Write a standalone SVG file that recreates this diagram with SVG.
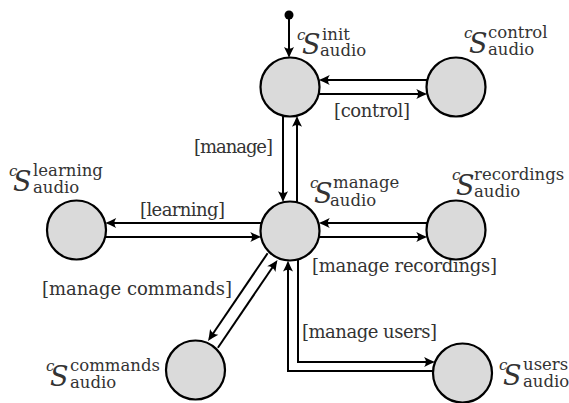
<svg xmlns="http://www.w3.org/2000/svg" width="569" height="403" viewBox="0 0 569 403">
  <style>
    .node { fill: #dadada; stroke: #000; stroke-width: 2.2; }
    .edge { fill: none; stroke: #000; stroke-width: 2; stroke-linejoin: miter; marker-end: url(#arrow); }
    text { font-family: 'DejaVu Serif', serif; fill: #333; }
    .lbl { font-size: 18px; }
    .nm { font-size: 16.5px; }
    .c { font-style: italic; font-size: 15px; }
    .S { font-style: italic; font-size: 27px; }
  </style>
  <defs>
    <marker id="arrow" viewBox="-12 -6 16 12" refX="-3" refY="0" markerWidth="16" markerHeight="12" orient="auto" markerUnits="userSpaceOnUse">
      <path d="M0,0 Q-4.5,-1.6 -11,-5 Q-7.5,0 -11,5 Q-4.5,1.6 0,0 Z" fill="#000"/>
    </marker>
  </defs>

  <!-- connectors -->
  <g id="edges">
    <circle cx="289" cy="15" r="4.5" fill="#000"/>
    <path class="edge" d="M289,15 V55"/>
    <path class="edge" d="M427.3,80 H321.7"/>
    <path class="edge" d="M318.7,94 H424.3"/>
    <path class="edge" d="M283,115.7 V199.3"/>
    <path class="edge" d="M297,202.3 V118.7"/>
    <path class="edge" d="M261.3,223 H108.2"/>
    <path class="edge" d="M105.2,237 H258.3"/>
    <path class="edge" d="M427.3,223 H321.7"/>
    <path class="edge" d="M318.7,237 H424.3"/>
    <path class="edge" d="M267.6,253.3 L209.7,338.5"/>
    <path class="edge" d="M217.9,347.7 L275.8,262.5"/>
    <path class="edge" d="M433.1,371 H288 V263.4"/>
    <path class="edge" d="M298,259.4 V362 H432.1"/>
  </g>

  <!-- edge labels -->
  <g id="edge-labels">
    <text class="lbl" x="334" y="117" textLength="76">[control]</text>
    <text class="lbl" x="194" y="153" textLength="79">[manage]</text>
    <text class="lbl" x="140" y="216" textLength="85">[learning]</text>
    <text class="lbl" x="312" y="272" textLength="185">[manage recordings]</text>
    <text class="lbl" x="42" y="295" textLength="190">[manage commands]</text>
    <text class="lbl" x="302" y="338" textLength="135">[manage users]</text>
  </g>

  <!-- nodes: each label is c, a large S, a superscript name and the subscript "audio" -->
  <g id="init">
    <circle class="node" cx="290" cy="87" r="29.5"/>
    <text><tspan class="c" x="297" y="40">c</tspan><tspan class="S" x="302" y="54">S</tspan><tspan class="nm" x="322" y="40">init</tspan><tspan class="nm" x="320" y="56">audio</tspan></text>
  </g>

  <g id="control">
    <circle class="node" cx="456" cy="87" r="29.5"/>
    <text><tspan class="c" x="464" y="38">c</tspan><tspan class="S" x="469" y="53">S</tspan><tspan class="nm" x="488" y="38">control</tspan><tspan class="nm" x="488" y="55">audio</tspan></text>
  </g>

  <g id="manage">
    <circle class="node" cx="290" cy="231" r="29.5"/>
    <text><tspan class="c" x="310" y="188">c</tspan><tspan class="S" x="314" y="203">S</tspan><tspan class="nm" x="333" y="188">manage</tspan><tspan class="nm" x="330" y="206">audio</tspan></text>
  </g>

  <g id="recordings">
    <circle class="node" cx="456" cy="230" r="29.5"/>
    <text><tspan class="c" x="452" y="180">c</tspan><tspan class="S" x="456" y="195">S</tspan><tspan class="nm" x="474" y="180">recordings</tspan><tspan class="nm" x="474" y="197">audio</tspan></text>
  </g>

  <g id="learning">
    <circle class="node" cx="76.5" cy="230" r="29.5"/>
    <text><tspan class="c" x="9" y="176">c</tspan><tspan class="S" x="13" y="191">S</tspan><tspan class="nm" x="33" y="176">learning</tspan><tspan class="nm" x="33" y="193">audio</tspan></text>
  </g>

  <g id="commands">
    <circle class="node" cx="195.5" cy="370" r="29.5"/>
    <text><tspan class="c" x="46" y="371">c</tspan><tspan class="S" x="50" y="386">S</tspan><tspan class="nm" x="70" y="371">commands</tspan><tspan class="nm" x="70" y="388">audio</tspan></text>
  </g>

  <g id="users">
    <circle class="node" cx="462.5" cy="373" r="29.5"/>
    <text><tspan class="c" x="499" y="370">c</tspan><tspan class="S" x="503" y="385">S</tspan><tspan class="nm" x="523" y="370">users</tspan><tspan class="nm" x="523" y="387">audio</tspan></text>
  </g>
</svg>
